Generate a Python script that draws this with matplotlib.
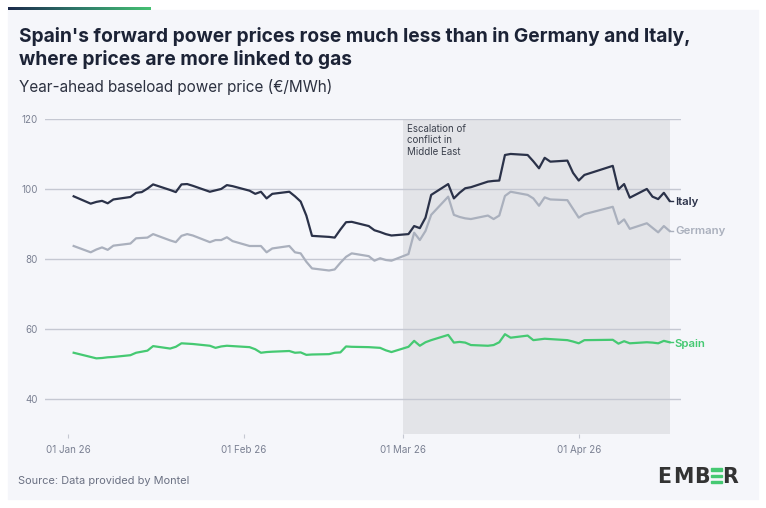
import numpy as np
import pandas as pd
import matplotlib
matplotlib.use("Agg")
import matplotlib.pyplot as plt
import matplotlib.dates as mdates
from matplotlib.patches import Rectangle

# trading days shown in the chart (Good Friday / Easter Monday missing)
jan_days = [2, 5, 6, 7, 8, 9, 12, 13, 14, 15, 16, 19, 20, 21, 22, 23, 26, 27, 28, 29, 30]
feb_days = [2, 3, 4, 5, 6, 9, 10, 11, 12, 13, 16, 17, 18, 19, 20, 23, 24, 25, 26, 27]
mar_days = [2, 3, 4, 5, 6, 9, 10, 11, 12, 13, 16, 17, 18, 19, 20, 23, 24, 25, 26, 27, 30, 31]
apr_days = [1, 2, 7, 8, 9, 10, 13, 14, 15, 16, 17]

italy = [98.0, 95.9, 96.4, 96.7, 96.0, 97.1, 97.8, 99.0, 99.2, 100.2, 101.4, 99.8, 99.2, 101.4, 101.5, 101.0,
         99.3, 99.7, 100.1, 101.2, 100.9,
         99.6, 98.7, 99.3, 97.4, 98.7, 99.3, 98.0, 96.5, 92.5, 86.7, 86.4, 86.2, 88.5, 90.6, 90.7,
         89.5, 88.3, 87.8, 87.2, 86.8,
         87.2, 89.5, 88.9, 91.9, 98.4, 101.5, 97.4, 99.0, 100.3, 100.6, 102.2, 102.4, 102.5, 109.8, 110.1,
         109.8, 108.0, 106.0, 109.0, 107.9, 108.2, 104.7,
         102.5, 104.1, 106.7, 100.0, 101.5, 97.6, 100.1, 97.9, 97.2, 99.0, 96.7]

germany = [83.8, 82.0, 82.8, 83.4, 82.7, 83.9, 84.5, 86.0, 86.1, 86.2, 87.2, 85.4, 84.9, 86.7, 87.2, 86.8,
           84.9, 85.5, 85.5, 86.3, 85.2,
           83.8, 83.8, 83.8, 82.0, 83.1, 83.8, 82.0, 81.7, 79.3, 77.4, 76.8, 77.1, 79.0, 80.7, 81.7,
           80.9, 79.6, 80.3, 79.8, 79.6,
           81.5, 87.6, 85.5, 88.1, 92.7, 97.9, 92.7, 92.1, 91.7, 91.5, 92.5, 91.5, 92.5, 98.1, 99.3,
           98.4, 97.4, 95.3, 97.7, 97.1, 96.9, 94.4,
           91.9, 92.9, 95.0, 90.1, 91.4, 88.7, 90.3, 89.0, 87.7, 89.5, 88.1]

spain = [53.3, 52.1, 51.7, 51.8, 52.0, 52.1, 52.6, 53.3, 53.6, 53.9, 55.2, 54.5, 55.0, 56.0, 55.9, 55.8,
         55.3, 54.7, 55.1, 55.3, 55.2,
         54.9, 54.3, 53.3, 53.5, 53.6, 53.8, 53.3, 53.4, 52.7, 52.8, 52.9, 53.3, 53.4, 55.1, 55.0,
         54.9, 54.8, 54.7, 54.0, 53.5,
         55.0, 56.7, 55.3, 56.3, 56.9, 58.4, 56.2, 56.4, 56.2, 55.5, 55.3, 55.5, 56.3, 58.6, 57.6,
         58.2, 56.9, 57.1, 57.3, 57.2, 56.9, 56.5,
         56.0, 56.9, 57.0, 55.9, 56.6, 56.0, 56.3, 56.2, 56.0, 56.7, 56.3]

series_names = ["Italy", "Germany", "Spain"]
series_colors = ["#2b3249", "#aab0bd", "#45c972"]
y_ticks = [40, 60, 80, 100, 120]
x_ticks = ["2026-01-01", "2026-02-01", "2026-03-01", "2026-04-01"]
event_start, event_end = "2026-03-01", "2026-04-17"
event_label = "Escalation of\nconflict in\nMiddle East"

dates = pd.to_datetime(
    [f"2026-01-{d:02d}" for d in jan_days] + [f"2026-02-{d:02d}" for d in feb_days]
    + [f"2026-03-{d:02d}" for d in mar_days] + [f"2026-04-{d:02d}" for d in apr_days])

W, H = 766, 508
FONT = "Inter"
plt.rcParams["font.family"] = [FONT, "DejaVu Sans"]

fig = plt.figure(figsize=(W / 100, H / 100), dpi=100, facecolor="white")


def fx(x):
    return x / W


def fy(y):
    return 1 - y / H


# card background (below everything)
fig.patches.append(Rectangle((fx(8), fy(499)), fx(758) - fx(8), fy(9.7) - fy(499),
                             transform=fig.transFigure, color="#f5f6fa", zorder=-5))

# gradient strip at top left
bar = fig.add_axes([fx(8), fy(9.7), fx(151) - fx(8), 3 / H])
grad = np.linspace(0, 1, 256).reshape(1, -1)
cmap = matplotlib.colors.LinearSegmentedColormap.from_list("ember", ["#1c2a4b", "#2f7a6a", "#45c172"])
bar.imshow(grad, aspect="auto", cmap=cmap)
bar.axis("off")

fig.text(fx(19), fy(41.7), "Spain's forward power prices rose much less than in Germany and Italy,",
         fontsize=13.8, fontweight="bold", color="#1c2336", va="baseline")
fig.text(fx(19), fy(65), "where prices are more linked to gas",
         fontsize=13.8, fontweight="bold", color="#1c2336", va="baseline")
fig.text(fx(19), fy(91.7), "Year-ahead baseload power price (€/MWh)",
         fontsize=11.0, color="#2c3140", va="baseline")
fig.text(fx(18), fy(484), "Source: Data provided by Montel",
         fontsize=7.9, color="#6b7183", va="baseline")

ax = fig.add_axes([fx(45), fy(434.3), fx(680.7) - fx(45), fy(119.3) - fy(434.3)])
ax.set_facecolor("none")

t0 = pd.Timestamp("2026-01-01")
ax.set_xlim(t0 - pd.Timedelta(days=4.05), t0 + pd.Timedelta(days=107.97))
ax.set_ylim(30, 120)

ax.axvspan(pd.Timestamp(event_start), pd.Timestamp(event_end), color="#e3e4e8", zorder=0, lw=0)
for v in y_ticks:
    ax.axhline(v, color="#c5c8d2", lw=1.0, zorder=1)

ax.text(pd.Timestamp(event_start) + pd.Timedelta(days=0.8), 118.7, event_label,
        fontsize=7.0, color="#3b404c", va="top", ha="left", linespacing=1.2)

all_vals = [italy, germany, spain]
label_offsets = [-0.3, 0.0, -0.5]
for name, vals, col, off in zip(series_names, all_vals, series_colors, label_offsets):
    ax.plot(dates, vals, color=col, lw=1.6, zorder=3, solid_joinstyle="round")
    ax.plot([dates[-1], dates[-1] + pd.Timedelta(days=0.7)], [vals[-1], vals[-1]], color=col, lw=1.0, zorder=3)
    ax.text(dates[-1] + pd.Timedelta(days=0.95), vals[-1] + off, name, color=col, fontsize=8.2,
            fontweight="semibold", va="center", ha="left")

ax.set_yticks(y_ticks)
ax.set_xticks(pd.to_datetime(x_ticks))
ax.xaxis.set_major_formatter(mdates.DateFormatter("%d %b %y"))
ax.tick_params(axis="y", length=0, pad=5, labelsize=7.0, labelcolor="#7b8193")
ax.tick_params(axis="x", length=3, width=0.8, color="#c5c8d2", pad=5, labelsize=7.1, labelcolor="#7b8193")
for s in ax.spines.values():
    s.set_visible(False)

# logo: letters placed one by one, the second E drawn as three green bars
for letter, xl in zip(["E", "M", "B", "R"], [657, 673.5, 694.5, 722.5]):
    fig.text(fx(xl), fy(483.3), letter, fontsize=14.8, fontweight="bold", color="#333333",
             va="baseline", family="DejaVu Sans")
for y0 in [468.3, 474.5, 480.6]:
    fig.patches.append(Rectangle((fx(710.5), fy(y0 + 2.8)), fx(721.5) - fx(710.5), 2.8 / H,
                                 transform=fig.transFigure, color="#45c972", zorder=2))

fig.savefig("out.png", dpi=100, facecolor="white")
